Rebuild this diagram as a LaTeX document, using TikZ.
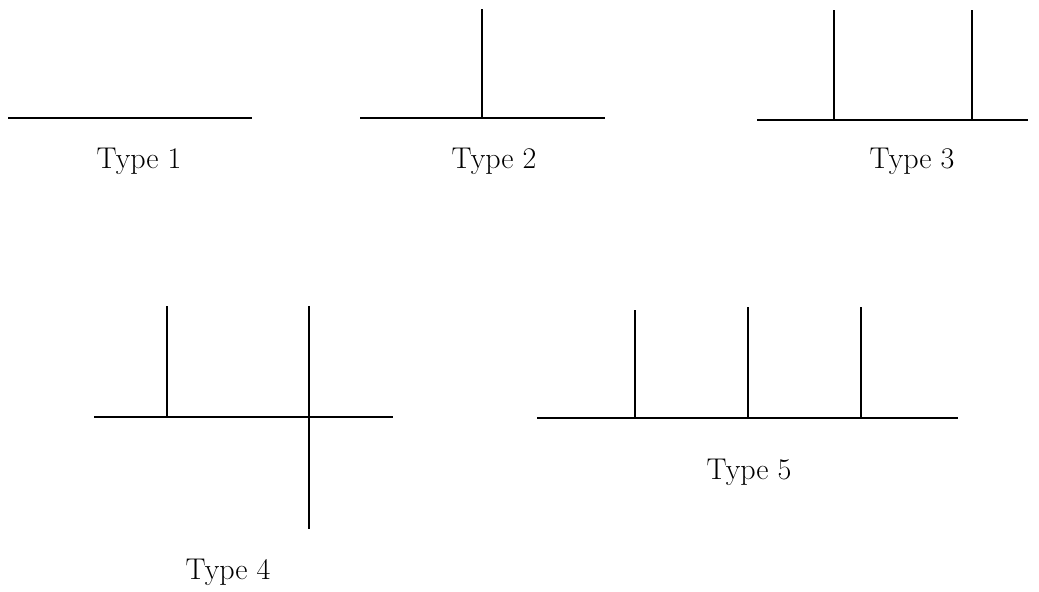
\documentclass[tikz,border=0pt]{standalone}
\usepackage{tikz}
\usetikzlibrary{positioning}

\begin{document}
\begin{tikzpicture}[x=0.5pt,y=-0.5pt]
	\useasboundingbox (0,0) rectangle (1039,592);

	\begin{scope}
		% Type 1
		\coordinate (einsL) at (8,118);
		\coordinate (einsR) at (252,118);
		% Type 2
		\coordinate (zweiL) at (360,118);
		\coordinate (zweiR) at (605,118);
		\coordinate (zweiM) at (482,118);
		\coordinate (zweiO) at (482,9);
		% Type 3
		\coordinate (dreiL) at (757,120);
		\coordinate (dreiR) at (1028,120);
		\coordinate (dreiA) at (834,120);
		\coordinate (dreiAo) at (834,10);
		\coordinate (dreiB) at (972,120);
		\coordinate (dreiBo) at (972,10);
		% Type 4
		\coordinate (vierL) at (94,417);
		\coordinate (vierR) at (393,417);
		\coordinate (vierA) at (167,417);
		\coordinate (vierAo) at (167,306);
		\coordinate (vierBo) at (309,306);
		\coordinate (vierBu) at (309,529);
		% Type 5
		\coordinate (fuenfL) at (537,418);
		\coordinate (fuenfR) at (958,418);
		\coordinate (fuenfA) at (635,418);
		\coordinate (fuenfAo) at (635,310);
		\coordinate (fuenfB) at (748,418);
		\coordinate (fuenfBo) at (748,307);
		\coordinate (fuenfC) at (861,418);
		\coordinate (fuenfCo) at (861,307);
	\end{scope}

	\begin{scope}[every node/.style={anchor=base,font=\fontsize{15}{18}\selectfont}]
		\node (typeEins) at (139,169) {Type 1};
		\node (typeZwei) at (494,169) {Type 2};
		\node (typeDrei) at (912,169) {Type 3};
		\node (typeVier) at (228,580) {Type 4};
		\node (typeFuenf) at (749,480) {Type 5};
	\end{scope}

	\begin{scope}[line width=1.4pt]
		\draw (einsL) -- (einsR);
		\draw (zweiL) -- (zweiR);
		\draw (zweiM) -- (zweiO);
		\draw (dreiL) -- (dreiR);
		\draw (dreiA) -- (dreiAo);
		\draw (dreiB) -- (dreiBo);
		\draw (vierL) -- (vierR);
		\draw (vierA) -- (vierAo);
		\draw (vierBo) -- (vierBu);
		\draw (fuenfL) -- (fuenfR);
		\draw (fuenfA) -- (fuenfAo);
		\draw (fuenfB) -- (fuenfBo);
		\draw (fuenfC) -- (fuenfCo);
	\end{scope}
\end{tikzpicture}
\end{document}
